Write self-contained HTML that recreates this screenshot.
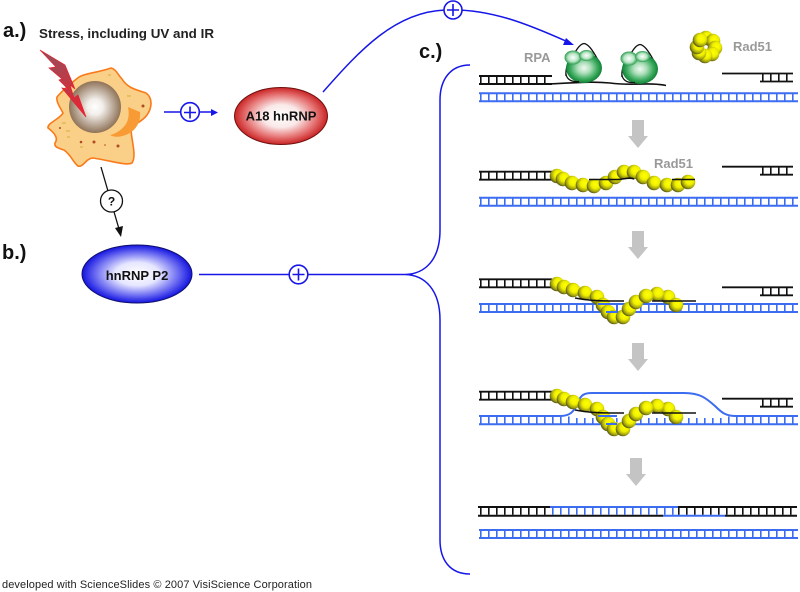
<!DOCTYPE html>
<html><head><meta charset="utf-8"><style>html,body{margin:0;padding:0;background:#fff}svg{display:block;filter:blur(.35px)}text{font-family:"Liberation Sans",Arial,sans-serif}</style></head>
<body>
<svg xmlns="http://www.w3.org/2000/svg" width="800" height="592" viewBox="0 0 800 592">
<defs>
<radialGradient id="red"><stop offset="0" stop-color="#fff"/><stop offset=".4" stop-color="#fae8e8"/><stop offset=".75" stop-color="#e67474"/><stop offset="1" stop-color="#c92424"/></radialGradient>
<radialGradient id="blu"><stop offset="0" stop-color="#fff"/><stop offset=".4" stop-color="#e6e6ff"/><stop offset=".75" stop-color="#6c6cf2"/><stop offset="1" stop-color="#1414e0"/></radialGradient>
<radialGradient id="nuc"><stop offset="0" stop-color="#fff"/><stop offset=".3" stop-color="#f2eeea"/><stop offset="1" stop-color="#8f7358"/></radialGradient>
<radialGradient id="grn"><stop offset="0" stop-color="#f0faf2"/><stop offset=".35" stop-color="#b0e0bc"/><stop offset=".75" stop-color="#3aaa5e"/><stop offset="1" stop-color="#128238"/></radialGradient>
<radialGradient id="grl"><stop offset="0" stop-color="#fff"/><stop offset=".6" stop-color="#b5e5c2"/><stop offset="1" stop-color="#2d9c50"/></radialGradient>
<radialGradient id="yel" cx=".6" cy=".4" r=".62"><stop offset="0" stop-color="#ffff00"/><stop offset=".45" stop-color="#f0f000"/><stop offset=".8" stop-color="#a0a010"/><stop offset="1" stop-color="#555510"/></radialGradient>
<linearGradient id="bolt" x1="0" y1="0" x2="1" y2="1"><stop offset="0" stop-color="#8a5560"/><stop offset="1" stop-color="#ee2030"/></linearGradient>
<circle id="b" r="7.300" fill="url(#yel)"/>
<g id="blue"><path d="M479 0H798M479 8H798" stroke="#3c6cf0" stroke-width="2" fill="none"/><path d="M480 4H798" stroke="#3c6cf0" stroke-width="7" stroke-dasharray="1.600 6.400" fill="none"/></g>
<g id="bl"><path d="M479 0H552M479 8H552" stroke="#111" stroke-width="1.900" fill="none"/><path d="M480 4H552" stroke="#111" stroke-width="7" stroke-dasharray="1.600 6.400" fill="none"/></g>
<g id="br"><path d="M722 0H793M760 8H793" stroke="#111" stroke-width="1.800" fill="none"/><path d="M762 4H792" stroke="#111" stroke-width="7" stroke-dasharray="1.600 6.400" fill="none"/></g>
<path id="gar" d="M632 0H644V16H648L638 28 628 16H632Z" fill="#c4c4c4"/>
<g id="rpa">
<path d="M566 76C565 67 570 58 574 54C577 49 580 44 584 43.500C588 44 592 49 598 60" fill="none" stroke="#111" stroke-width="1.300"/>
<ellipse cx="584" cy="68" rx="18" ry="15" fill="url(#grn)"/>
<ellipse cx="573" cy="57.500" rx="8.500" ry="7" fill="url(#grl)"/>
<ellipse cx="586.500" cy="55.500" rx="7.500" ry="5.500" fill="url(#grl)"/>
<path d="M566 74C567 80 572 82 579 81.500" fill="none" stroke="#111" stroke-width="1.200"/>
</g>
<g id="beads3">
<use href="#b" x="557" y="284"/><use href="#b" x="564" y="287"/><use href="#b" x="573" y="290"/><use href="#b" x="585" y="293"/><use href="#b" x="597" y="297"/><use href="#b" x="603" y="305"/><use href="#b" x="608" y="312"/><use href="#b" x="614" y="317"/><use href="#b" x="623" y="317"/><use href="#b" x="629" y="309"/><use href="#b" x="636" y="302"/><use href="#b" x="668" y="297"/><use href="#b" x="657" y="294"/><use href="#b" x="646" y="296"/><use href="#b" x="676" y="305"/>
</g>
</defs>

<rect width="800" height="592" fill="#fff"/>

<text x="3" y="37" font-size="20" font-weight="bold" fill="#111">a.)</text>
<text x="39" y="38" font-size="13" font-weight="bold" fill="#222" textLength="175" lengthAdjust="spacingAndGlyphs">Stress, including UV and IR</text>
<text x="2" y="259" font-size="20" font-weight="bold" fill="#111">b.)</text>
<text x="419" y="58" font-size="20" font-weight="bold" fill="#111">c.)</text>

<!-- cell -->
<path d="M111 68C116 69 118 75 122 79C127 87 133 89 146 93C153 98 152 108 147 115C142 122 134 124 131 128C131 140 137 155 132 163C126 166 113 161 93 158C86 158 83 168 78 166C72 161 72 156 64 150C58 148 54 147 55 143C58 139 56 134 48 128C47 123 60 119 63 113C60 107 56 102 57 97C62 91 70 84 79 77C85 73 97 73 111 68Z" fill="#fad088" stroke="#f97a1a" stroke-width="1.600"/>
<path d="M128 107L140 112C141 122 136 130 128 134C122 137 115 138 110 135C118 133 124 128 127 122C129 117 129 112 128 107Z" fill="#f99b35"/>
<g fill="#b04a20"><circle cx="143" cy="106" r="1.500"/><circle cx="81" cy="142" r="1.300"/><circle cx="94" cy="142" r="1.500"/><circle cx="118" cy="146" r="1.500"/><circle cx="105" cy="145" r=".8"/><circle cx="60" cy="128" r="1"/></g>
<g stroke="#c8a020" stroke-width=".7"><path d="M127 96h4M62 123h4M67 137h3M66 131h4M80 147h3M108 75h3"/></g>
<circle cx="95" cy="107" r="26" fill="url(#nuc)"/>
<path d="M40 50L65 65 75 89 70 85 74 98 78 95 86 117 62 88 68 89 59 80 62 79 49 68 56 67Z" fill="url(#bolt)" stroke="#e8202c" stroke-width=".7"/>

<!-- a pathway -->
<path d="M164 112H213" stroke="#1616e8" stroke-width="1.600"/>
<path d="M211 109L218 112.500 211 116Z" fill="#1616e8"/>
<circle cx="190" cy="112" r="9.300" fill="#fff" stroke="#1616e8" stroke-width="1.600"/>
<path d="M184 112.500H196M190 106.500V118.500" stroke="#1616e8" stroke-width="1.600"/>
<ellipse cx="281" cy="116" rx="46.500" ry="28.500" fill="url(#red)" stroke="#701010" stroke-width="1"/>
<text x="281" y="120.500" font-size="13" font-weight="bold" fill="#111" text-anchor="middle">A18 hnRNP</text>

<!-- question -->
<path d="M101 167L119 229" stroke="#111" stroke-width="1.300"/>
<path d="M115 228L121 237 123 226Z" fill="#111"/>
<circle cx="111.500" cy="201" r="11" fill="#fff" stroke="#111" stroke-width="1.300"/>
<text x="111.500" y="205.500" font-size="12" font-weight="bold" fill="#111" text-anchor="middle">?</text>

<!-- b -->
<ellipse cx="137" cy="274" rx="55" ry="29" fill="url(#blu)" stroke="#10106a" stroke-width="1"/>
<text x="137" y="280" font-size="13" font-weight="bold" fill="#111" text-anchor="middle">hnRNP P2</text>
<path d="M199 274.500H405C425 274 440 260 440 230V100C440 80 450 65 470 65M405 274.500C425 275 440 290 440 320V540C440 560 450 574 470 574" fill="none" stroke="#1616e8" stroke-width="1.500"/>
<circle cx="298.500" cy="274.500" r="9.300" fill="#fff" stroke="#1616e8" stroke-width="1.600"/>
<path d="M292.500 274.500H304.500M298.500 268.500V280.500" stroke="#1616e8" stroke-width="1.600"/>

<!-- top curve -->
<path d="M323 92C360 50 395 12 445 10C490 8 530 25 568 42" fill="none" stroke="#1616e8" stroke-width="1.500"/>
<path d="M566 38L574 45 563 45Z" fill="#1616e8"/>
<circle cx="453" cy="10" r="9" fill="#fff" stroke="#1616e8" stroke-width="1.600"/>
<path d="M447 10H459M453 4V16" stroke="#1616e8" stroke-width="1.600"/>

<!-- row 1 -->
<use href="#bl" y="76"/><use href="#blue" y="93.300"/><use href="#br" y="73.500"/>
<path d="M552 83.800C575 83 590 81 610 83C630 86 650 82 666 85.500" fill="none" stroke="#111" stroke-width="1.600"/>
<use href="#rpa"/><use href="#rpa" x="56" y="1"/>
<text x="524" y="62" font-size="13" font-weight="bold" fill="#999">RPA</text>
<g transform="translate(706 47)">
<use href="#b" x="0" y="-9"/><use href="#b" x="7" y="-6"/><use href="#b" x="9" y="1"/><use href="#b" x="6" y="7"/><use href="#b" x="-1" y="9"/><use href="#b" x="-7" y="6"/><use href="#b" x="-9" y="0"/><use href="#b" x="-6" y="-7"/>
<circle r="1.200" fill="#fff"/>
</g>
<text x="733" y="51" font-size="13" font-weight="bold" fill="#999">Rad51</text>

<use href="#gar" y="120"/>

<!-- row 2 -->
<use href="#bl" y="171.700"/><use href="#blue" y="197.700"/><use href="#br" y="166.700"/>
<g>
<use href="#b" x="557" y="176"/><use href="#b" x="563" y="179"/><use href="#b" x="572" y="183"/><use href="#b" x="583" y="185"/><use href="#b" x="594" y="186"/><use href="#b" x="606" y="183"/><use href="#b" x="615" y="177"/><use href="#b" x="624" y="172"/><use href="#b" x="634" y="172"/><use href="#b" x="643" y="177"/><use href="#b" x="654" y="183"/><use href="#b" x="667" y="185"/><use href="#b" x="678" y="185"/><use href="#b" x="688" y="182"/>
</g>
<path d="M589 179.500H618C625 179 630 177 634 179M672 179.500H695" fill="none" stroke="#111" stroke-width="1.600"/>
<text x="654" y="168" font-size="13" font-weight="bold" fill="#999">Rad51</text>

<use href="#gar" y="231"/>

<!-- row 3 -->
<use href="#bl" y="279.300"/><use href="#br" y="287.300"/>
<use href="#blue" y="304"/>
<use href="#beads3"/>
<path d="M575 298C585 300 595 301 610 301H624M652 301H696" fill="none" stroke="#111" stroke-width="1.600"/>
<path d="M598 304H617V312H606" fill="none" stroke="#3c6cf0" stroke-width="2"/>

<use href="#gar" y="343"/>

<!-- row 4 -->
<use href="#bl" y="391.700"/><use href="#br" y="398.700"/>
<path d="M479 416H560C570 416 574 412 578 402C581 395 584 393 592 393H684C700 393 706 398 715 406C722 413 726 416 736 416H798" fill="none" stroke="#3c6cf0" stroke-width="2"/>
<path d="M479 424.300H798" fill="none" stroke="#3c6cf0" stroke-width="2"/>
<path d="M480 420H572" stroke="#3c6cf0" stroke-width="7" stroke-dasharray="1.600 6.400" fill="none"/>
<path d="M576 421H728" stroke="#3c6cf0" stroke-width="6" stroke-dasharray="1.600 6.400" fill="none"/>
<path d="M728 420H798" stroke="#3c6cf0" stroke-width="7" stroke-dasharray="1.600 6.400" fill="none"/>
<use href="#beads3" y="112"/>
<path d="M575 410C585 412 595 413 610 413H624M652 413H696" fill="none" stroke="#111" stroke-width="1.600"/>
<path d="M598 416H617M606 424H617" fill="none" stroke="#3c6cf0" stroke-width="2"/>

<use href="#gar" x="-2" y="458"/>

<!-- row 5 -->
<path d="M478 507H550M678 507H797M478 515.700H663M725 515.700H797" fill="none" stroke="#111" stroke-width="2"/>
<path d="M550 507H678M663 515.700H725" fill="none" stroke="#3c6cf0" stroke-width="2"/>
<path d="M480 511.300H550M678 511.300H797" stroke="#111" stroke-width="7" stroke-dasharray="1.600 6.400" fill="none"/>
<path d="M552 511.300H678" stroke="#3c6cf0" stroke-width="7" stroke-dasharray="1.600 6.400" fill="none"/>
<use href="#blue" y="530"/>

<text x="2" y="588" font-size="11" fill="#222" textLength="310">developed with ScienceSlides © 2007 VisiScience Corporation</text>
</svg>
</body></html>
